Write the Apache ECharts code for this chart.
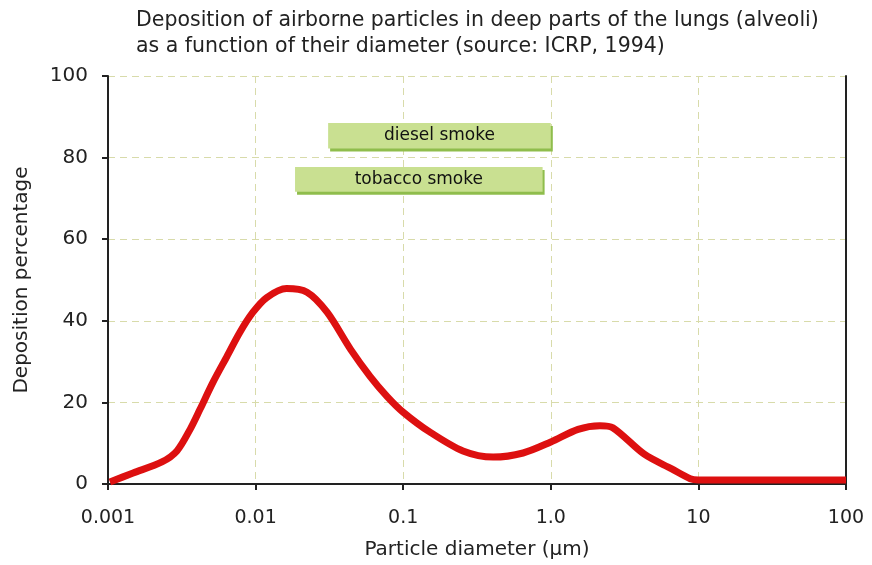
<!DOCTYPE html>
<html>
<head>
<meta charset="utf-8">
<script src="https://cdn.jsdelivr.net/npm/echarts@6/dist/echarts.min.js"></script>
<style>
  html, body { margin: 0; padding: 0; background: #fff; }
  #mydiv { width: 872px; height: 565px; }
</style>
</head>
<body>
<div id="mydiv"></div>
<script>
// particle diameter (µm) and deposition in the alveoli (%)
var diameters = [0.00103, 0.00148, 0.00232, 0.00293, 0.0036, 0.0042, 0.00514, 0.0064, 0.00783, 0.0096,
    0.0119, 0.0162, 0.0223, 0.0305, 0.044, 0.0596, 0.0776, 0.1, 0.152, 0.254,
    0.407, 0.649, 1.0, 1.53, 2.15, 2.63, 4.3, 6.6, 8.8, 10, 30, 100];
var deposition = [0.5, 2.7, 5.4, 8.1, 13.4, 18.3, 24.9, 31.3, 37.2, 42.1,
    45.7, 47.9, 47.0, 42.1, 33.0, 26.4, 21.5, 17.6, 12.7, 8.1,
    6.6, 7.6, 10.3, 13.4, 14.3, 13.8, 7.3, 3.7, 1.3, 1.0, 1.0, 1.0];

// size ranges of the smoke particles (band start, end, top, bottom)
var smokeNames = ['diesel smoke', 'tobacco smoke'];
var smokeFrom = [0.031, 0.0185];
var smokeTo = [1.0, 0.88];
var smokeTop = [88.5, 77.7];
var smokeBottom = [82.2, 71.6];

// x tick labels
var xTicks = {'0.001': '0.001', '0.01': '0.01', '0.1': '0.1', '1': '1.0', '10': '10', '100': '100'};

var font = 'DejaVu Sans';

var lineData = [];
for (var i = 0; i < diameters.length; i++) {
    lineData.push([diameters[i], deposition[i]]);
}
var bandData = [];
for (var j = 0; j < smokeNames.length; j++) {
    bandData.push([smokeFrom[j], smokeTo[j], smokeTop[j], smokeBottom[j], smokeNames[j]]);
}

var echart = echarts.init(document.getElementById('mydiv'));

var gridLine = {show: true, lineStyle: {color: '#d8dbaa', type: [7, 5], width: 1}};
var frameLine = {show: true, lineStyle: {color: '#222', width: 2}};

var option = {
    animation: false,
    backgroundColor: '#fff',
    title: {
        text: 'Deposition of airborne particles in deep parts of the lungs (alveoli)\nas a function of their diameter (source: ICRP, 1994)',
        left: 136,
        top: 8,
        padding: 0,
        textStyle: {
            fontFamily: font,
            fontSize: 20.5,
            fontWeight: 'normal',
            lineHeight: 26,
            color: '#222'
        }
    },
    grid: {
        left: 108,
        right: 26,
        top: 76,
        bottom: 80
    },
    xAxis: [{
        type: 'log',
        logBase: 10,
        min: 0.001,
        max: 100,
        name: 'Particle diameter (µm)',
        nameLocation: 'middle',
        nameGap: 56,
        nameTextStyle: {fontFamily: font, fontSize: 20, color: '#222'},
        axisLine: frameLine,
        axisTick: {show: true, length: 6, lineStyle: {color: '#222', width: 2}},
        minorTick: {show: false},
        axisLabel: {
            margin: 25,
            fontFamily: font,
            fontSize: 19,
            color: '#222',
            formatter: function (v) {
                var key = String(+v.toPrecision(3));
                return xTicks[key] !== undefined ? xTicks[key] : '';
            }
        },
        splitLine: gridLine
    }, {
        type: 'log',
        logBase: 10,
        min: 0.001,
        max: 100,
        position: 'top',
        axisLine: frameLine,
        axisTick: {show: false},
        axisLabel: {show: false},
        splitLine: {show: false}
    }],
    yAxis: [{
        type: 'value',
        min: 0,
        max: 100,
        interval: 20,
        name: 'Deposition percentage',
        nameLocation: 'middle',
        nameGap: 76,
        nameRotate: 90,
        nameTextStyle: {fontFamily: font, fontSize: 20, color: '#222'},
        axisLine: frameLine,
        axisTick: {show: true, length: 6, lineStyle: {color: '#222', width: 2}},
        axisLabel: {margin: 20, padding: [6, 0, 0, 0], fontFamily: font, fontSize: 20, color: '#222'},
        splitLine: gridLine
    }, {
        type: 'value',
        min: 0,
        max: 100,
        interval: 20,
        position: 'right',
        axisLine: frameLine,
        axisTick: {show: false},
        axisLabel: {show: false},
        splitLine: {show: false}
    }],
    series: [
        {
            name: 'deposition',
            type: 'line',
            data: lineData,
            smooth: 0.3,
            showSymbol: false,
            lineStyle: {color: '#dd1010', width: 7},
            z: 3
        },
        {
            name: 'smoke',
            type: 'custom',
            data: bandData,
            encode: {x: [0, 1], y: [2, 3]},
            z: 4,
            renderItem: function (params, api) {
                var p0 = api.coord([api.value(0), api.value(2)]);
                var p1 = api.coord([api.value(1), api.value(3)]);
                var w = p1[0] - p0[0];
                var h = p1[1] - p0[1];
                return {
                    type: 'group',
                    children: [
                        {
                            type: 'rect',
                            shape: {x: p0[0] + 2, y: p0[1] + 3, width: w, height: h},
                            style: {fill: '#8fbd4c'}
                        },
                        {
                            type: 'rect',
                            shape: {x: p0[0], y: p0[1], width: w, height: h},
                            style: {fill: '#c9e091'}
                        },
                        {
                            type: 'text',
                            style: {
                                x: p0[0] + w / 2,
                                y: p0[1] + h / 2,
                                text: api.value(4),
                                fill: '#111',
                                fontFamily: font,
                                fontSize: 17,
                                align: 'center',
                                verticalAlign: 'middle'
                            }
                        }
                    ]
                };
            }
        }
    ]
};

echart.setOption(option);
</script>
</body>
</html>
